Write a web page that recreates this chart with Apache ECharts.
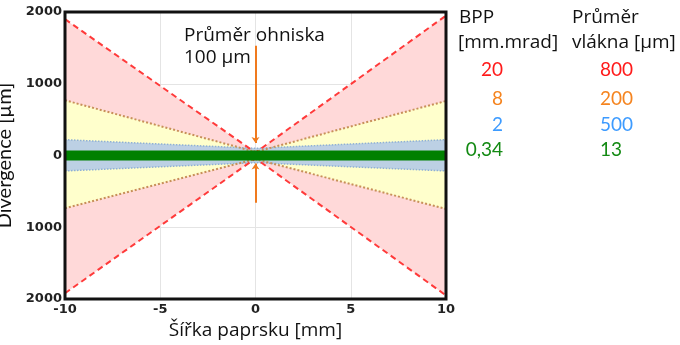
<!DOCTYPE html>
<html><head><meta charset="utf-8">
<script src="https://cdn.jsdelivr.net/npm/echarts@6/dist/echarts.min.js"></script>
<style>html,body{margin:0;padding:0;background:#fff}#c{width:680px;height:345px}</style>
</head><body><div id="c"></div>
<script>
// ---- data ----
const xPos = [-10, 0, 10];                 // beam width position [mm]
const redUpper = [1900, 40, 1950];
const redLower = [-1920, -40, -1950];
const orangeUpper = [770, 50, 760];
const orangeLower = [-735, -50, -745];
const blueUpper = [220, 100, 220];
const blueLower = [-215, -100, -215];
const greenLine = [0, 0, 0];
const focusTop = [1530, 175];              // orange marker (upper part), µm
const focusBottom = [-660, -110];          // orange marker (lower part), µm
const xTicks = ['-10', '-5', '0', '5', '10'];
const yTicks = ['2000', '1000', '0', '1000', '2000'];
const bppValues = [20, 8, 2, 0.34];
const fiberValues = [800, 200, 500, 13];
const legendColors = ['#ff1a1a', '#f5841f', '#3d9bff', '#138a13'];

const pts = arr => xPos.map((x, i) => [x, arr[i]]);
const FONT = 'Lato';
const WIDE = 'Open Sans';

function area(arr, color) {
  return { type: 'line', data: pts(arr), symbol: 'none', lineStyle: { width: 0 },
    areaStyle: { color: color, opacity: 1, origin: 0 }, silent: true, z: 1 };
}
function edge(arr, color, type, width) {
  return { type: 'line', data: pts(arr), symbol: 'none',
    lineStyle: { color: color, type: type, width: width }, silent: true, z: 3 };
}

const graphics = [];
const headStyle = { fill: '#111', font: '19px "' + WIDE + '"', verticalAlign: 'middle' };
graphics.push({ type: 'text', x: 459, y: 18, style: Object.assign({ text: 'BPP' }, headStyle) });
graphics.push({ type: 'text', x: 458, y: 43, style: Object.assign({ text: '[mm.mrad]' }, headStyle) });
graphics.push({ type: 'text', x: 572, y: 18, style: Object.assign({ text: 'Průměr' }, headStyle) });
graphics.push({ type: 'text', x: 572, y: 43, style: Object.assign({ text: 'vlákna [µm]' }, headStyle) });
const rowY = [70, 99, 125, 150];
bppValues.forEach((v, i) => {
  graphics.push({ type: 'text', x: 503, y: rowY[i],
    style: { text: String(v).replace('.', ','), fill: legendColors[i], font: '19px ' + FONT, align: 'right', verticalAlign: 'middle' } });
});
fiberValues.forEach((v, i) => {
  graphics.push({ type: 'text', x: 600, y: rowY[i],
    style: { text: String(v), fill: legendColors[i], font: '19px ' + FONT, align: 'left', verticalAlign: 'middle' } });
});
graphics.push({ type: 'text', x: 184, y: 36,
  style: { text: 'Průměr ohniska', fill: '#111', font: '19px "' + WIDE + '"', verticalAlign: 'middle' } });
graphics.push({ type: 'text', x: 184, y: 58,
  style: { text: '100 µm', fill: '#111', font: '19px "' + WIDE + '"', verticalAlign: 'middle' } });

const chart = echarts.init(document.getElementById('c'));
chart.setOption({
  animation: false,
  grid: { left: 65, right: 234, top: 12, bottom: 46, outerBoundsMode: 'none', containLabel: false,
    show: true, z: 10, borderColor: '#111', borderWidth: 3, backgroundColor: 'transparent' },
  xAxis: {
    type: 'value', min: -10, max: 10, interval: 5,
    name: 'Šířka paprsku [mm]', nameLocation: 'middle', nameGap: 20,
    nameTextStyle: { fontFamily: WIDE, fontSize: 19, color: '#111' },
    axisLine: { show: false }, axisTick: { show: false },
    splitLine: { show: true, lineStyle: { color: '#e4e4e4', width: 1 } },
    axisLabel: { margin: 4, fontFamily: 'DejaVu Sans', fontWeight: 'bold', fontSize: 13, color: '#222',
      formatter: v => xTicks[Math.round((v + 10) / 5)] }
  },
  yAxis: {
    type: 'value', min: -2000, max: 2000, interval: 1000,
    name: 'Divergence [µm]', nameLocation: 'middle', nameGap: 41,
    nameTextStyle: { fontFamily: FONT, fontSize: 20, color: '#111' },
    axisLine: { show: false }, axisTick: { show: false },
    splitLine: { show: true, lineStyle: { color: '#e4e4e4', width: 1 } },
    axisLabel: { margin: 3, fontFamily: 'DejaVu Sans', fontWeight: 'bold', fontSize: 13, color: '#222',
      formatter: v => yTicks[Math.round((2000 - v) / 1000)] }
  },
  series: [
    area(redUpper, '#ffd9d9'), area(redLower, '#ffd9d9'),
    area(orangeUpper, '#ffffcc'), area(orangeLower, '#ffffcc'),
    area(blueUpper, '#bcd0e4'), area(blueLower, '#bcd0e4'),
    edge(blueUpper, '#8fb0d4', 'dotted', 1.5), edge(blueLower, '#8fb0d4', 'dotted', 1.5),
    edge(orangeUpper, '#c8905a', 'dotted', 2), edge(orangeLower, '#c8905a', 'dotted', 2),
    edge(redUpper, '#ff3a3a', [6, 4], 2), edge(redLower, '#ff3a3a', [6, 4], 2),
    { type: 'line', data: pts(greenLine), symbol: 'none', z: 4,
      lineStyle: { color: '#008000', width: 10, cap: 'butt' }, silent: true },
    { type: 'line', data: [], silent: true, z: 5,
      markLine: { silent: true, symbol: ['none', 'arrow'], symbolSize: [6, 6], label: { show: false },
        lineStyle: { color: '#f07a1e', width: 2, type: 'solid' },
        data: [
          [{ coord: [0, focusTop[0]] }, { coord: [0, focusTop[1]] }],
          [{ coord: [0, focusBottom[0]] }, { coord: [0, focusBottom[1]] }]
        ] } }
  ],
  graphic: graphics
});
</script></body></html>
